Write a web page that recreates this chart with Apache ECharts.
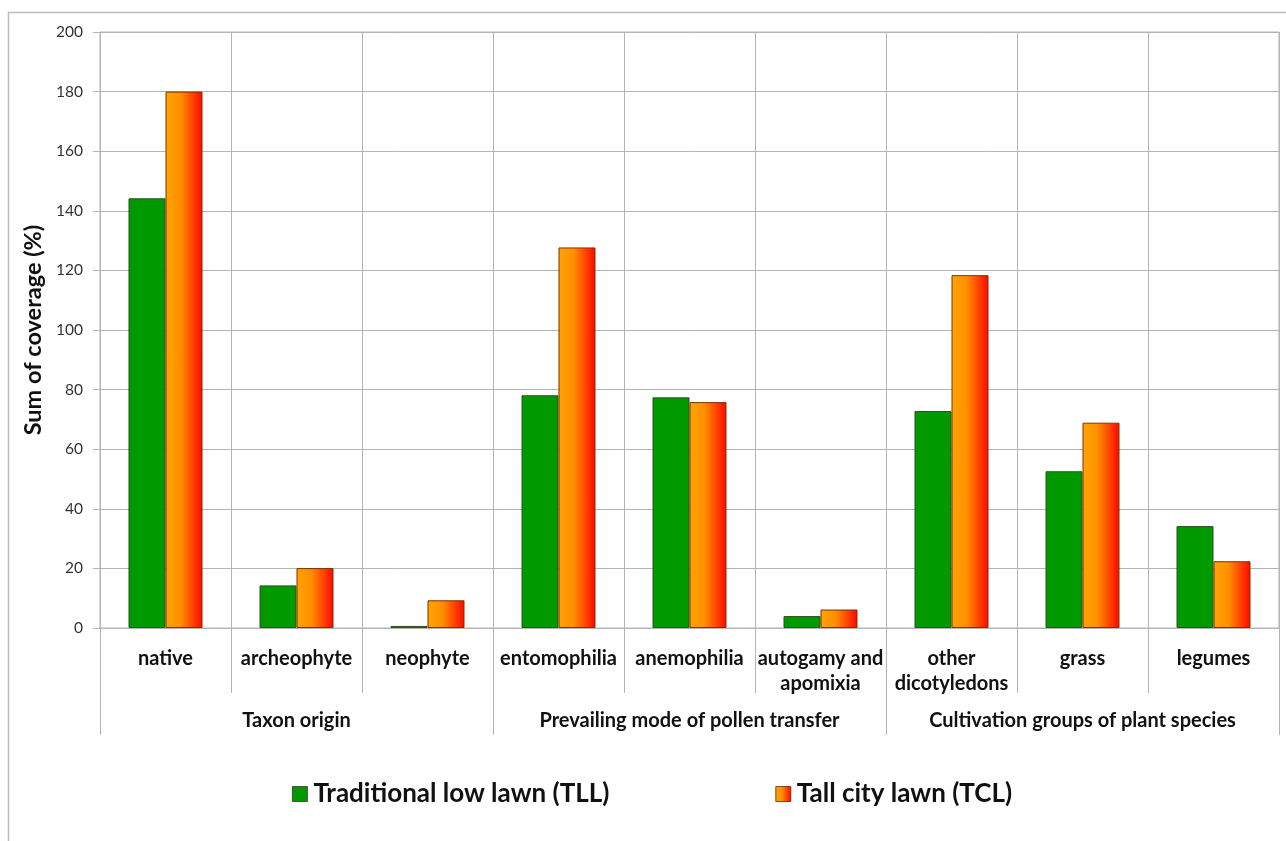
<!DOCTYPE html>
<html>
<head>
<meta charset="utf-8">
<script src="https://cdn.jsdelivr.net/npm/echarts@6/dist/echarts.min.js"></script>
<style>
html,body{margin:0;padding:0;background:#fff;}
#c{width:1286px;height:841px;}
</style>
</head>
<body>
<div id="c"></div>
<script>
const categories = ['native','archeophyte','neophyte','entomophilia','anemophilia','autogamy and\napomixia','other\ndicotyledons','grass','legumes'];
const groups = ['Taxon origin','Prevailing mode of pollen transfer','Cultivation groups of plant species'];
const tllValues = [144.2, 14.3, 0.7, 78.1, 77.4, 4.0, 72.8, 52.6, 34.2];
const tclValues = [180.0, 20.1, 9.3, 127.7, 75.8, 6.2, 118.4, 68.9, 22.4];
const yTicks = {min: 0, max: 200, interval: 20};
const seriesNames = ['Traditional low lawn (TLL)', 'Tall city lawn (TCL)'];

const FONT = 'Lato, "Open Sans", sans-serif';
const gridColor = '#b4b4b4';
const chart = echarts.init(document.getElementById('c'), null, {renderer: 'canvas'});

const orangeGrad = new echarts.graphic.LinearGradient(0, 0, 1, 0, [
  {offset: 0, color: '#ffa400'},
  {offset: 0.4, color: '#ff9000'},
  {offset: 1, color: '#ff0600'}
]);

chart.setOption({
  backgroundColor: '#fff',
  animation: false,
  graphic: [{
    type: 'rect',
    shape: {x: 8.5, y: 12.5, width: 1400, height: 900},
    style: {fill: 'none', stroke: '#bdbdbd', lineWidth: 1.5},
    silent: true,
    z: -10
  }],
  grid: {left: 100, right: 7, top: 32, bottom: 213, show: true, borderColor: gridColor, borderWidth: 1, backgroundColor: 'transparent'},
  legend: {
    left: 287, top: 776,
    itemWidth: 15, itemHeight: 15, itemGap: 166,
    textStyle: {fontFamily: FONT, fontWeight: 'bold', fontSize: 26, color: '#111', padding: [0,0,0,1]},
    data: [
      {name: seriesNames[0], icon: 'rect', itemStyle: {color: '#009900', borderColor: '#333', borderWidth: 0.8}},
      {name: seriesNames[1], icon: 'rect', itemStyle: {color: orangeGrad, borderColor: '#6a2a00', borderWidth: 0.8}}
    ]
  },
  xAxis: [{
    type: 'category',
    data: categories,
    position: 'bottom',
    axisLine: {show: true, lineStyle: {color: gridColor, width: 1}},
    axisTick: {show: true, interval: 0, length: 65, lineStyle: {color: gridColor, width: 1}},
    splitLine: {show: true, interval: 0, lineStyle: {color: gridColor, width: 1}},
    axisLabel: {interval: 0, margin: 18, fontFamily: FONT, fontWeight: 'bold', fontSize: 20, color: '#111', lineHeight: 25}
  }, {
    type: 'category',
    data: groups,
    position: 'bottom',
    offset: 0,
    gridIndex: 0,
    axisLine: {show: false},
    axisTick: {show: true, interval: 0, length: 107, lineStyle: {color: gridColor, width: 1}},
    splitLine: {show: false},
    axisLabel: {interval: 0, margin: 83, fontFamily: FONT, fontWeight: 'bold', fontSize: 20, color: '#111'}
  }],
  yAxis: {
    type: 'value',
    min: yTicks.min, max: yTicks.max, interval: yTicks.interval,
    name: 'Sum of coverage (%)',
    nameLocation: 'middle',
    nameRotate: 90,
    nameGap: 46,
    nameTextStyle: {fontFamily: FONT, fontWeight: 'bold', fontSize: 23.5, color: '#111'},
    axisLine: {show: true, lineStyle: {color: gridColor, width: 1}},
    axisTick: {show: true, length: 7, lineStyle: {color: gridColor}},
    splitLine: {show: true, lineStyle: {color: gridColor, width: 1}},
    axisLabel: {margin: 17, fontFamily: FONT, fontSize: 15.5, color: '#333'}
  },
  series: [{
    name: seriesNames[0],
    type: 'bar',
    xAxisIndex: 0,
    data: tllValues,
    barWidth: 37,
    barGap: '0%',
    itemStyle: {color: '#009900', borderColor: '#2f4f1f', borderWidth: 1}
  }, {
    name: seriesNames[1],
    type: 'bar',
    xAxisIndex: 0,
    data: tclValues,
    barWidth: 37,
    barGap: '0%',
    itemStyle: {color: orangeGrad, borderColor: '#7a3200', borderWidth: 1}
  }]
});
</script>
</body>
</html>
